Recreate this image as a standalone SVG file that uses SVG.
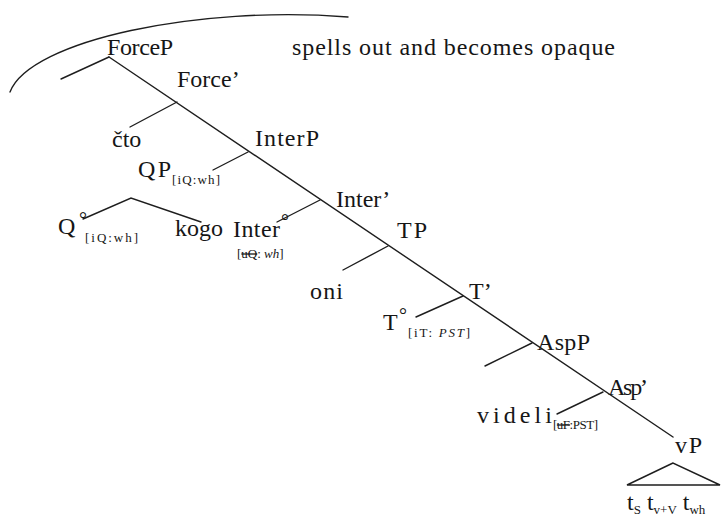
<svg xmlns="http://www.w3.org/2000/svg" width="721" height="519" viewBox="0 0 721 519" font-family="'Liberation Serif', 'Times New Roman', 'DejaVu Serif', serif">
<style>
text{font-family:"Liberation Serif","Times New Roman","DejaVu Serif",serif;fill:#161616}
.m{font-size:24px}
.s{font-size:13px}
.d{font-size:20px}
.st{text-decoration:line-through}
.i{font-style:italic}
line,path,polyline,polygon{stroke:#1e1e1e;stroke-width:1.4;fill:none;stroke-linecap:round}
</style>
<rect width="721" height="519" fill="#fff"/>
<g id="connectors">
<path d="M10,92 C30,40 200,5 348,17"/>
<line x1="109" y1="57" x2="673" y2="437"/>
<line x1="109" y1="57" x2="61" y2="79"/>
<line x1="177" y1="102" x2="130" y2="127"/>
<line x1="248" y1="152" x2="213" y2="170"/>
<line x1="320" y1="200" x2="277" y2="222"/>
<line x1="388" y1="246" x2="343" y2="270"/>
<line x1="463" y1="296" x2="416" y2="317"/>
<line x1="532" y1="343" x2="485" y2="366"/>
<line x1="603" y1="392" x2="557" y2="414"/>
<polyline points="83,219 131,198 201,222"/>
<polygon points="673,463 627,485 720,485"/>
</g>
<g id="ForceP"><text class="m" x="107" y="55" textLength="66" lengthAdjust="spacing">ForceP</text></g>
<g id="note"><text class="m" x="292" y="55" textLength="323" lengthAdjust="spacing">spells out and becomes opaque</text></g>
<g id="ForceBar"><text class="m" x="177" y="87">Force’</text></g>
<g id="cto"><text class="m" x="112" y="147">čto</text></g>
<g id="InterP"><text class="m" x="255" y="146" textLength="64" lengthAdjust="spacing">InterP</text></g>
<g id="QP"><text class="m" x="138" y="177" textLength="33" lengthAdjust="spacing">QP</text><text class="s" x="172" y="184" textLength="48" lengthAdjust="spacing">[iQ:wh]</text></g>
<g id="Q0"><text class="m" x="58" y="234">Q</text><text class="d" x="79" y="226">°</text><text class="s" x="85" y="242" textLength="53" lengthAdjust="spacing">[iQ:wh]</text></g>
<g id="kogo"><text class="m" x="175" y="236" textLength="48" lengthAdjust="spacing">kogo</text></g>
<g id="Inter0"><text class="m" x="233" y="237" textLength="47" lengthAdjust="spacing">Inter</text><text class="d" x="281" y="228">°</text><text class="s" x="237" y="258">[<tspan class="st">uQ</tspan>: <tspan class="i">wh</tspan>]</text></g>
<g id="InterBar"><text class="m" x="336" y="207">Inter’</text></g>
<g id="TP"><text class="m" x="397" y="238" textLength="30" lengthAdjust="spacing">TP</text></g>
<g id="oni"><text class="m" x="310" y="299" textLength="33" lengthAdjust="spacing">oni</text></g>
<g id="TBar"><text class="m" x="469" y="299">T’</text></g>
<g id="T0"><text class="m" x="383" y="330">T</text><text class="d" x="399" y="322">°</text><text class="s" x="408" y="337" textLength="62" lengthAdjust="spacing">[iT: <tspan class="i">PST</tspan>]</text></g>
<g id="AspP"><text class="m" x="537" y="350" textLength="53" lengthAdjust="spacing">AspP</text></g>
<g id="AspBar"><text class="m" x="608" y="395" textLength="40" lengthAdjust="spacing">Asp’</text></g>
<g id="videli"><text class="m" x="477" y="423" textLength="75" lengthAdjust="spacing">videli</text><text class="s" x="553" y="429" textLength="45" lengthAdjust="spacing">[<tspan class="st">uF</tspan>:PST]</text></g>
<g id="vP"><text class="m" x="675" y="453" textLength="27" lengthAdjust="spacing">vP</text></g>
<g id="traces"><text class="m" x="627" y="510">t<tspan class="s" dy="4">S</tspan><tspan dy="-4"> t</tspan><tspan class="s" dy="4">v+V</tspan><tspan dy="-4"> t</tspan><tspan class="s" dy="4">wh</tspan></text></g>
</svg>
